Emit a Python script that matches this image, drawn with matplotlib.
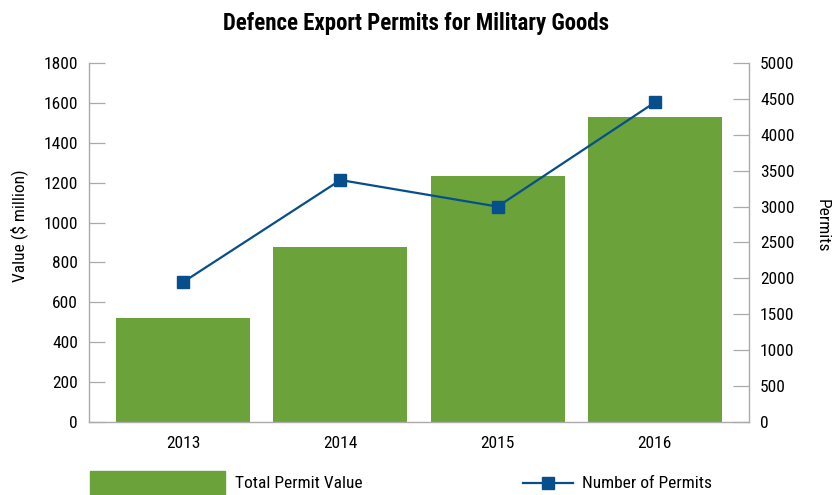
import numpy as np
import matplotlib.pyplot as plt
from matplotlib.patches import Rectangle
from matplotlib.lines import Line2D

plt.rcParams["font.family"] = ["Roboto Condensed", "DejaVu Sans"]

# %% Data
years = ["2013", "2014", "2015", "2016"]
permit_value = [520, 875, 1235, 1530]      # $ million
permit_count = [1950, 3370, 3000, 4450]    # number of permits

green = "#6ba33a"
blue = "#064f8c"
grey = "#aaaaaa"
fs = 12.5

fig = plt.figure(figsize=(8.33, 4.95), dpi=100)
ax = fig.add_axes([89 / 833, 73 / 495, 660 / 833, 359 / 495])
ax2 = ax.twinx()

x = np.arange(len(years))
ax.bar(x, permit_value, width=0.853, color=green, zorder=2)
ax2.plot(x, permit_count, color=blue, lw=1.6, marker="s", ms=9, zorder=3)

ax.set_xlim(-0.6, 3.6)
ax.set_ylim(0, 1800)
ax.set_yticks(np.arange(0, 1801, 200))
ax2.set_ylim(0, 5000)
ax2.set_yticks(np.arange(0, 5001, 500))
ax.set_xticks(x)
ax.set_xticklabels(years)

# Trục, vạch chia
for a in (ax, ax2):
    a.spines["top"].set_visible(False)
    for s in ("left", "right", "bottom"):
        a.spines[s].set_color(grey)
        a.spines[s].set_linewidth(1.0)
ax.spines["right"].set_visible(False)
ax2.spines["left"].set_visible(False)
ax2.spines["bottom"].set_visible(False)

ax.tick_params(axis="y", direction="in", length=11.5, width=0.9, color=grey,
               labelsize=fs, pad=8)
ax.tick_params(axis="x", length=0, labelsize=fs, pad=10)
ax2.tick_params(axis="y", direction="in", length=11.5, width=0.9, color=grey,
                labelsize=fs, pad=8)

# Nhãn trục
fig.text(19 / 833, 1 - 226 / 495, "Value ($ million)", fontsize=fs,
         rotation=90, ha="center", va="center")
fig.text(822 / 833, 1 - 226 / 495, "Permits", fontsize=fs,
         rotation=270, ha="center", va="center")

fig.suptitle("Defence Export Permits for Military Goods", fontsize=16.5,
             fontweight="bold", x=0.5, y=0.975)

# Chú thích (legend) thủ công
fig.add_artist(Rectangle((90 / 833, 0), 135 / 833, 24 / 495,
                         transform=fig.transFigure, color=green))
fig.text(235 / 833, 11 / 495, "Total Permit Value", fontsize=fs, va="center")
fig.add_artist(Line2D([523 / 833, 548 / 833, 573 / 833], [12 / 495] * 3,
                      transform=fig.transFigure, color=blue, lw=1.6,
                      marker="s", ms=9, markevery=[1]))
fig.text(582 / 833, 11 / 495, "Number of Permits", fontsize=fs, va="center")

plt.savefig("out.png", dpi=100)
